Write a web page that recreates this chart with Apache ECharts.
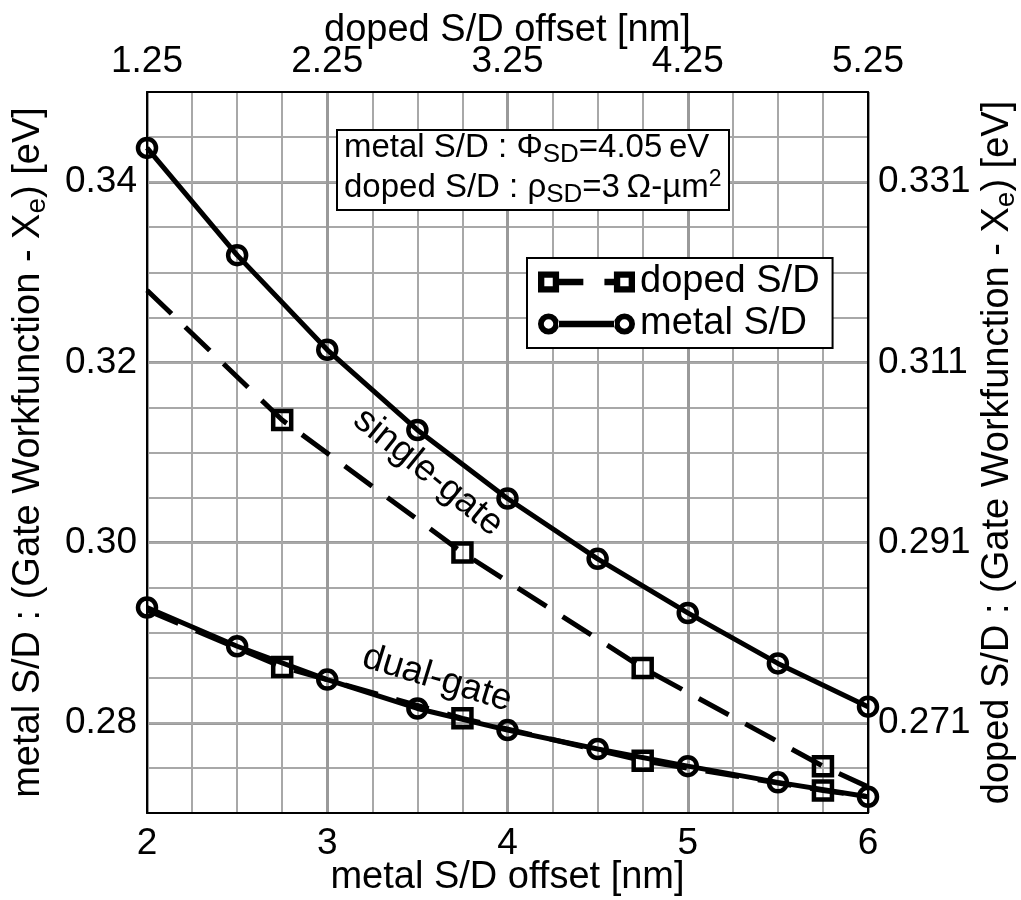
<!DOCTYPE html>
<html>
<head>
<meta charset="utf-8">
<title>Gate workfunction vs S/D offset</title>
<script src="https://cdn.jsdelivr.net/npm/echarts@6/dist/echarts.min.js"></script>
<style>
html, body { margin: 0; padding: 0; background: #fff; }
#chart { width: 1021px; height: 900px; }
</style>
</head>
<body>
<div id="chart"></div>
<script>
// metal S/D : bottom axis [nm], left axis [eV]
var metalX = [2, 2.5, 3, 3.5, 4, 4.5, 5, 5.5, 6];
var metalSingle = [0.3438, 0.3319, 0.3214, 0.3125, 0.3049, 0.2982, 0.2922, 0.2866, 0.2818];
var metalDual = [0.2928, 0.2885, 0.2848, 0.2816, 0.2792, 0.2771, 0.2752, 0.2734, 0.2718];

// doped S/D : top axis [nm], right axis [eV]
var dopedX = [1.25, 2, 3, 4, 5, 5.25];
var dopedSingle = [0.3190, 0.3046, 0.2899, 0.2771, 0.2662, 0.2639];
var dopedDual = [0.2835, 0.2772, 0.2715, 0.2668, 0.2635, 0.2628];
var dopedMarkedX = [2, 3, 4, 5]; // points drawn with a square

// tick labels
var bottomTicks = [2, 3, 4, 5, 6];
var topTicks = [1.25, 2.25, 3.25, 4.25, 5.25];
var leftTicks = [0.28, 0.30, 0.32, 0.34];
var rightTicks = [0.271, 0.291, 0.311, 0.331];

var FONT = 'Liberation Sans';

function hasTick(list, v) {
	return list.some(function (t) { return Math.abs(t - v) < 1e-6; });
}

function metalData(ys) {
	return metalX.map(function (x, i) { return [x, ys[i]]; });
}

function dopedData(ys) {
	return dopedX.map(function (x, i) {
		return {
			value: [x, ys[i]],
			symbol: hasTick(dopedMarkedX, x) ? 'rect' : 'none'
		};
	});
}

// legend icons: marker - line - marker
var squareL = 'M0,0 L20,0 L20,20 L0,20 Z M6,6 L6,14 L14,14 L14,6 Z ';
var squareR = 'M72,0 L92,0 L92,20 L72,20 Z M78,6 L78,14 L86,14 L86,6 Z ';
var dopedIcon = 'path://' + squareL + 'M20,7 L43,7 L43,13 L20,13 Z M63,7 L72,7 L72,13 L63,13 Z ' + squareR;
var circleL = 'M0,10 A10,10 0 1,0 20,10 A10,10 0 1,0 0,10 Z M5.5,10 A4.5,4.5 0 1,1 14.5,10 A4.5,4.5 0 1,1 5.5,10 Z ';
var circleR = 'M72,10 A10,10 0 1,0 92,10 A10,10 0 1,0 72,10 Z M77.5,10 A4.5,4.5 0 1,1 86.5,10 A4.5,4.5 0 1,1 77.5,10 Z ';
var metalIcon = 'path://' + circleL + 'M19,7 L73,7 L73,13 L19,13 Z ' + circleR;

var axisLine = { show: true, onZero: false, lineStyle: { color: '#000', width: 2 } };
var nameStyle = {
	color: '#000', fontFamily: FONT, fontSize: 38,
	rich: {
		n: { color: '#000', fontFamily: FONT, fontSize: 38, lineHeight: 44 },
		s: { color: '#000', fontFamily: FONT, fontSize: 28, lineHeight: 30, verticalAlign: 'bottom' }
	}
};

function lineSeries(name, xi, yi, data, symbol, dashed) {
	return {
		name: name,
		type: 'line',
		xAxisIndex: xi,
		yAxisIndex: yi,
		data: data,
		symbol: symbol,
		symbolSize: 18,
		showAllSymbol: true,
		clip: false,
		silent: true,
		lineStyle: { color: '#000', width: 5, type: dashed ? [34, 19] : 'solid', cap: 'butt' },
		itemStyle: { color: 'rgba(255,255,255,0)', borderColor: '#000', borderWidth: 4.5 },
		emphasis: { disabled: true }
	};
}

var dom = document.getElementById('chart');
var myChart = echarts.init(dom);

var option = {
	animation: false,
	backgroundColor: '#fff',
	textStyle: { fontFamily: FONT, color: '#000' },
	grid: { left: 147, right: 153, top: 92, bottom: 87, outerBoundsMode: 'none' },
	title: {
		left: 337,
		top: 126,
		padding: [2, 8, 2, 7],
		borderColor: '#000',
		borderWidth: 2,
		backgroundColor: '#fff',
		text: '{t|metal S/D : \u03A6}{s|SD}{t|=4.05\u2009eV}\n{t|doped S/D : \u03C1}{s|SD}{t|=3\u2009\u03A9-\u00B5m}{p|2}',
		textStyle: {
			fontWeight: 'normal',
			rich: {
				t: { color: '#000', fontFamily: FONT, fontWeight: 'normal', fontSize: 33, lineHeight: 40 },
				s: { color: '#000', fontFamily: FONT, fontWeight: 'normal', fontSize: 26, lineHeight: 26, verticalAlign: 'bottom' },
				p: { color: '#000', fontFamily: FONT, fontWeight: 'normal', fontSize: 23, lineHeight: 22, verticalAlign: 'top' }
			}
		}
	},
	legend: {
		orient: 'vertical',
		left: 527,
		top: 258,
		padding: [5, 13, 5, 11],
		itemGap: 4,
		itemWidth: 97,
		itemHeight: 22,
		borderColor: '#000',
		borderWidth: 2,
		backgroundColor: '#fff',
		selectedMode: false,
		itemStyle: { color: '#000', borderWidth: 0 },
		textStyle: { color: '#000', fontFamily: FONT, fontSize: 38 },
		data: [
			{ name: 'doped S/D', icon: dopedIcon },
			{ name: 'metal S/D', icon: metalIcon }
		]
	},
	xAxis: [{
		type: 'value',
		position: 'bottom',
		min: 2,
		max: 6,
		interval: 1,
		name: 'metal S/D offset [nm]',
		nameLocation: 'middle',
		nameGap: 46,
		nameMoveOverlap: false,
		nameTextStyle: nameStyle,
		axisLine: axisLine,
		axisTick: { show: false },
		axisLabel: {
			margin: 12,
			color: '#000', fontFamily: FONT, fontSize: 37,
			formatter: function (v) { return hasTick(bottomTicks, v) ? String(v) : ''; }
		},
		splitLine: { show: true, lineStyle: { color: '#9a9a9a', width: 3 } },
		minorTick: { show: false, splitNumber: 4 },
		minorSplitLine: { show: true, lineStyle: { color: '#a8a8a8', width: 2 } }
	}, {
		type: 'value',
		position: 'top',
		min: 1.25,
		max: 5.25,
		interval: 1,
		name: 'doped S/D offset [nm]',
		nameLocation: 'middle',
		nameGap: 42,
		nameMoveOverlap: false,
		nameTextStyle: nameStyle,
		axisLine: axisLine,
		axisTick: { show: false },
		axisLabel: {
			margin: 12,
			color: '#000', fontFamily: FONT, fontSize: 37,
			formatter: function (v) { return hasTick(topTicks, v) ? v.toFixed(2) : ''; }
		},
		splitLine: { show: false }
	}],
	yAxis: [{
		type: 'value',
		position: 'left',
		min: 0.27,
		max: 0.35,
		interval: 0.01,
		name: '{n|metal S/D : (Gate Workfunction - X}{s|e}{n|) [eV]}',
		nameLocation: 'middle',
		nameRotate: 90,
		nameGap: 96,
		nameMoveOverlap: false,
		nameTextStyle: nameStyle,
		axisLine: axisLine,
		axisTick: { show: false },
		axisLabel: {
			margin: 10,
			color: '#000', fontFamily: FONT, fontSize: 37,
			formatter: function (v) { return hasTick(leftTicks, v) ? v.toFixed(2) : ''; }
		},
		// thick lines only at the labelled values
		splitLine: { show: true, lineStyle: { color: ['rgba(0,0,0,0)', '#9a9a9a'], width: 3 } }
	}, {
		type: 'value',
		position: 'right',
		min: 0.261,
		max: 0.341,
		interval: 0.005,
		name: '{n|doped S/D : (Gate Workfunction - X}{s|e}{n|) [eV]}',
		nameLocation: 'middle',
		nameRotate: 90,
		nameGap: 108,
		nameMoveOverlap: false,
		nameTextStyle: nameStyle,
		axisLine: axisLine,
		axisTick: { show: false },
		axisLabel: {
			margin: 10,
			color: '#000', fontFamily: FONT, fontSize: 37,
			formatter: function (v) { return hasTick(rightTicks, v) ? v.toFixed(3) : ''; }
		},
		splitLine: { show: true, lineStyle: { color: '#a8a8a8', width: 2 } }
	}],
	series: [
		lineSeries('doped S/D', 1, 1, dopedData(dopedSingle), 'rect', true),
		lineSeries('doped S/D', 1, 1, dopedData(dopedDual), 'rect', true),
		lineSeries('metal S/D', 0, 0, metalData(metalSingle), 'circle', false),
		lineSeries('metal S/D', 0, 0, metalData(metalDual), 'circle', false)
	]
};

if (option && typeof option === 'object') {
	myChart.setOption(option, true);
}

// curve labels, anchored in metal S/D data coordinates
var curveLabels = [
	{ text: 'single-gate', at: [3.56, 0.3078], angle: -39 },
	{ text: 'dual-gate', at: [3.61, 0.2849], angle: -17 }
];
myChart.setOption({
	graphic: curveLabels.map(function (c) {
		var p = myChart.convertToPixel({ xAxisIndex: 0, yAxisIndex: 0 }, c.at);
		return {
			type: 'text',
			x: p[0],
			y: p[1],
			rotation: c.angle * Math.PI / 180,
			silent: true,
			z: 10,
			style: {
				text: c.text,
				fill: '#000',
				font: '37px "' + FONT + '"',
				align: 'center',
				verticalAlign: 'middle'
			}
		};
	})
});
</script>
</body>
</html>
